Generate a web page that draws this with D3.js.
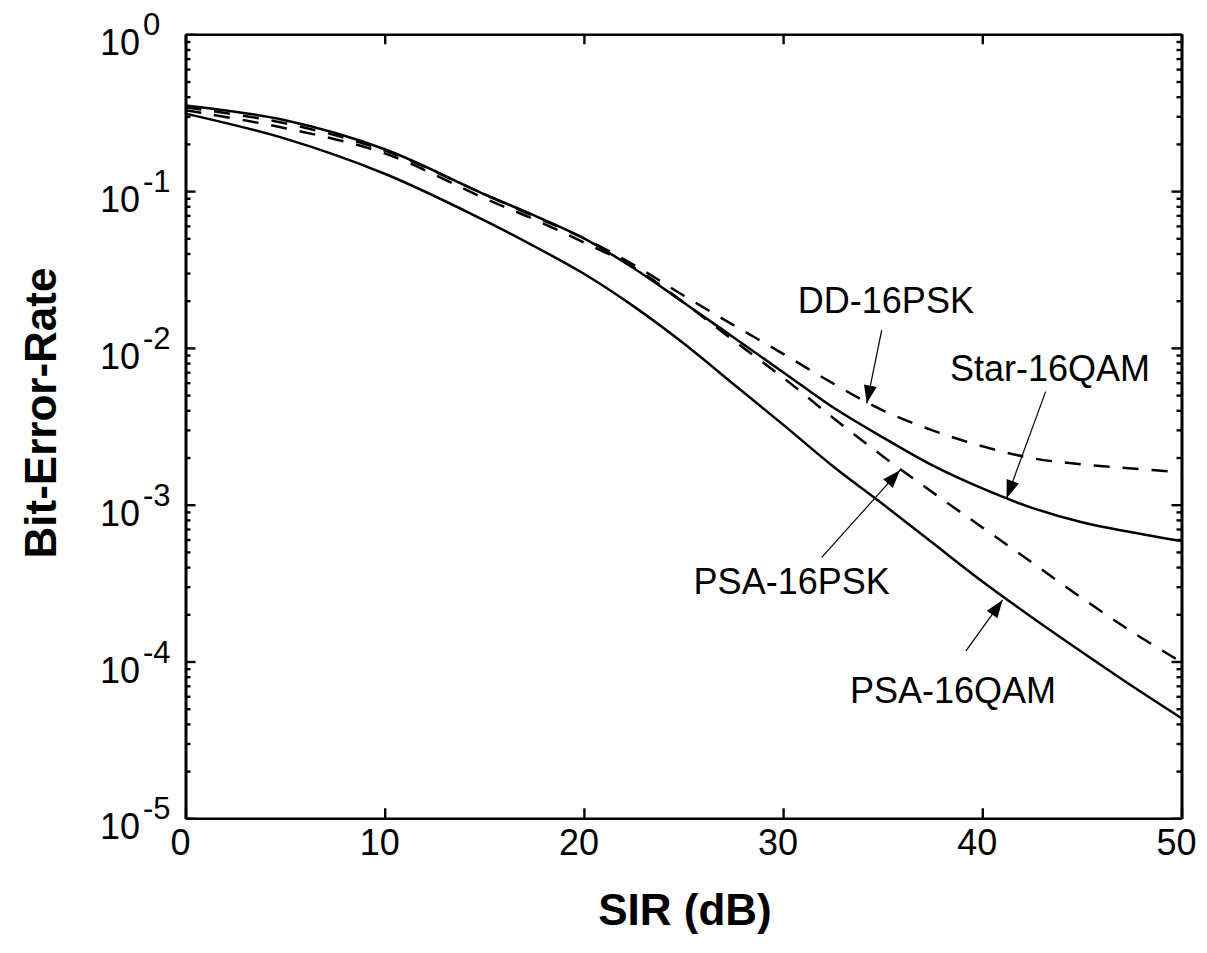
<!DOCTYPE html>
<html>
<head>
<meta charset="utf-8">
<script src="https://cdn.jsdelivr.net/npm/d3@7"></script>
<style>
  body { margin: 0; background: #fff; }
  svg { font-family: "Liberation Sans", Arial, sans-serif; }
</style>
</head>
<body>
<script>
// SIR in dB (x positions of sampled points)
var sir = [0, 5, 10, 15, 17.5, 20, 22.5, 25, 27.5, 30, 32.5, 35, 37.5, 40, 42.5, 45, 47.5, 50];

// bit error rates
var star16qam = [0.352, 0.283, 0.185, 0.0955, 0.070, 0.050, 0.0322, 0.0195, 0.0117, 0.0070, 0.00418, 0.00269, 0.00178, 0.00127, 0.000955, 0.000773, 0.000667, 0.000586];
var psa16qam  = [0.312, 0.216, 0.129, 0.0651, 0.0445, 0.0297, 0.0184, 0.0107, 0.00589, 0.00324, 0.00176, 0.00101, 0.000571, 0.000324, 0.000191, 0.000115, 0.00007, 0.0000435];
var dd16psk   = [0.342, 0.271, 0.181, 0.0955, 0.069, 0.050, 0.0339, 0.0216, 0.0140, 0.00917, 0.00594, 0.0040, 0.00298, 0.00236, 0.00198, 0.00181, 0.0017, 0.00161];
var psa16psk  = [0.328, 0.252, 0.174, 0.090, 0.066, 0.0471, 0.0327, 0.0195, 0.0112, 0.00646, 0.00359, 0.00204, 0.0012, 0.000716, 0.000427, 0.000254, 0.000155, 0.000099];

var xTicks = [0, 10, 20, 30, 40, 50];
var yExponents = [0, -1, -2, -3, -4, -5];

var width = 1207, height = 953;
var plotL = 185.5, plotR = 1181.5, plotT = 34.3, plotB = 818.3;

var svg = d3.select("body").append("svg")
  .attr("width", width)
  .attr("height", height);

var x = d3.scaleLinear().domain([0, 50]).range([plotL, plotR]);
var y = d3.scaleLog().domain([1e-5, 1]).range([plotB, plotT]);

// curves
var series = [
  { values: star16qam, dash: null },
  { values: psa16qam, dash: null },
  { values: dd16psk, dash: "16,13" },
  { values: psa16psk, dash: "16,13" }
];

var line = d3.line()
  .x(function (d) { return x(d[0]); })
  .y(function (d) { return y(d[1]); })
  .curve(d3.curveCatmullRom.alpha(0.5));

svg.selectAll("path.curve")
  .data(series)
  .enter()
  .append("path")
  .attr("class", "curve")
  .attr("d", function (s) { return line(sir.map(function (v, i) { return [v, s.values[i]]; })); })
  .attr("fill", "none")
  .attr("stroke", "#000")
  .attr("stroke-width", 2.5)
  .attr("stroke-dasharray", function (s) { return s.dash; });

// axes, ticks point inward
var minor = [];
for (var e = -5; e < 0; e++) {
  for (var m = 2; m <= 9; m++) minor.push(m * Math.pow(10, e));
}
var major = yExponents.map(function (p) { return Math.pow(10, p); });

function styleAxis(g) {
  g.selectAll("path.domain").attr("stroke", "#000").attr("stroke-width", 2.6);
  g.selectAll(".tick line").attr("stroke", "#000").attr("stroke-width", 2.4);
  g.selectAll(".tick text").remove();
}

svg.append("g").attr("transform", "translate(0," + plotB + ")")
  .call(d3.axisBottom(x).tickValues(xTicks).tickSizeInner(-10).tickSizeOuter(0))
  .call(styleAxis);
svg.append("g").attr("transform", "translate(0," + plotT + ")")
  .call(d3.axisTop(x).tickValues(xTicks).tickSizeInner(-10).tickSizeOuter(0))
  .call(styleAxis);
svg.append("g").attr("transform", "translate(" + plotL + ",0)")
  .call(d3.axisLeft(y).tickValues(major).tickSizeInner(-10).tickSizeOuter(0))
  .call(styleAxis);
svg.append("g").attr("transform", "translate(" + plotR + ",0)")
  .call(d3.axisRight(y).tickValues(major).tickSizeInner(-10).tickSizeOuter(0))
  .call(styleAxis);
svg.append("g").attr("transform", "translate(" + plotL + ",0)")
  .call(d3.axisLeft(y).tickValues(minor).tickSizeInner(-5).tickSizeOuter(0))
  .call(styleAxis);
svg.append("g").attr("transform", "translate(" + plotR + ",0)")
  .call(d3.axisRight(y).tickValues(minor).tickSizeInner(-5).tickSizeOuter(0))
  .call(styleAxis);

// x tick labels
svg.selectAll("text.xt")
  .data(xTicks)
  .enter()
  .append("text")
  .attr("class", "xt")
  .attr("x", function (d) { return x(d) - 5; })
  .attr("y", 855)
  .attr("text-anchor", "middle")
  .attr("font-size", 36)
  .text(function (d) { return d; });

// y tick labels 10^n
var yl = svg.selectAll("g.yt")
  .data(yExponents)
  .enter()
  .append("g")
  .attr("class", "yt");
yl.append("text")
  .attr("x", 140)
  .attr("y", function (d) { return y(Math.pow(10, d)) + 21; })
  .attr("text-anchor", "end")
  .attr("font-size", 36)
  .text("10");
yl.append("text")
  .attr("x", 143)
  .attr("y", function (d) { return y(Math.pow(10, d)) + 1; })
  .attr("font-size", 31)
  .text(function (d) { return d === 0 ? "0" : "-" + Math.abs(d); });

// axis titles
svg.append("text")
  .attr("x", 685)
  .attr("y", 925)
  .attr("text-anchor", "middle")
  .attr("font-size", 44)
  .attr("font-weight", "bold")
  .text("SIR (dB)");
svg.append("text")
  .attr("transform", "translate(56,413) rotate(-90)")
  .attr("text-anchor", "middle")
  .attr("font-size", 44)
  .attr("font-weight", "bold")
  .text("Bit-Error-Rate");

// annotations (label text, label anchor, arrow tail, arrow tip), in data units
var notes = [
  { text: "DD-16PSK",   lx: 35.16, ly: 0.0167,   tx: 34.95, ty: 0.0130,   hx: 34.2,  hy: 0.00443 },
  { text: "Star-16QAM", lx: 43.4,  ly: 0.00612,  tx: 43.18, ty: 0.00526,  hx: 41.22, hy: 0.0011 },
  { text: "PSA-16PSK",  lx: 30.43, ly: 0.000271, tx: 31.94, ty: 0.000462, hx: 35.87, hy: 0.00166 },
  { text: "PSA-16QAM",  lx: 38.53, ly: 0.0000541, tx: 39.18, ty: 0.000117, hx: 41.02, hy: 0.000247 }
];

var ng = svg.selectAll("g.note").data(notes).enter().append("g").attr("class", "note");
ng.append("text")
  .attr("x", function (d) { return x(d.lx); })
  .attr("y", function (d) { return y(d.ly); })
  .attr("text-anchor", "middle")
  .attr("font-size", 36)
  .text(function (d) { return d.text; });
ng.append("line")
  .attr("x1", function (d) { return x(d.tx); })
  .attr("y1", function (d) { return y(d.ty); })
  .attr("x2", function (d) { return x(d.hx); })
  .attr("y2", function (d) { return y(d.hy); })
  .attr("stroke", "#000")
  .attr("stroke-width", 1.2);
ng.append("path")
  .attr("fill", "#000")
  .attr("d", function (d) {
    var x1 = x(d.tx), y1 = y(d.ty), x2 = x(d.hx), y2 = y(d.hy);
    var a = Math.atan2(y2 - y1, x2 - x1), len = 18, w = 6.5;
    var bx = x2 - len * Math.cos(a), by = y2 - len * Math.sin(a);
    var px = -Math.sin(a) * w, py = Math.cos(a) * w;
    return "M" + x2 + "," + y2 + "L" + (bx + px) + "," + (by + py) + "L" + (bx - px) + "," + (by - py) + "Z";
  });
</script>
</body>
</html>
